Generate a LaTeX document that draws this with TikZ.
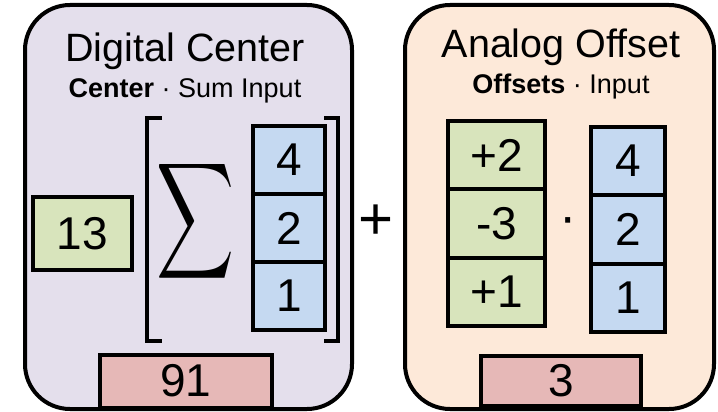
\documentclass[tikz,border=0pt]{standalone}
\usepackage{fontspec}
\setmainfont{Liberation Sans}
\usepackage{graphicx}
\definecolor{centerbg}{HTML}{E4DFEC}
\definecolor{offsetbg}{HTML}{FDE9D9}
\definecolor{cellgreen}{HTML}{D8E4BC}
\definecolor{cellblue}{HTML}{C5D9F1}
\definecolor{cellred}{HTML}{E6B8B7}
\newcommand{\fsz}[1]{\fontsize{#1}{#1}\selectfont}
\tikzset{
  panel/.style={draw, line width=4pt, rounded corners=45pt},
  cell/.style={draw, line width=4pt, inner sep=0pt, font=\fsz{46}},
  gcell/.style={cell, fill=cellgreen},
  bcell/.style={cell, fill=cellblue},
  rcell/.style={cell, fill=cellred},
  title/.style={anchor=base, inner sep=0pt, font=\fsz{39.5}},
  subtitle/.style={anchor=base, inner sep=0pt, font=\fsz{27}},
  brk/.style={line width=4pt, line cap=butt},
}
\begin{document}
\begin{tikzpicture}[x=1pt, y=-1pt]
\useasboundingbox (0,0) rectangle (718,412);

% panels
\draw[panel, fill=centerbg] (25,5) rectangle (352,409);
\draw[panel, fill=offsetbg] (405,5) rectangle (714,409);

% digital center
\node[title] (dtitle) at (185,62) {Digital Center};
\node[subtitle] (dsub) at (185,97) {\textbf{Center} · Sum Input};

\node[gcell, minimum width=99pt, minimum height=73pt] (c13) at (82.5,233.5) {13};

\draw[brk] (162,118) -| (147,341) -- (162,341);
\draw[brk] (324,118) -| (338,341) -- (324,341);
\node[inner sep=0pt] (sum) at (196,221) {\resizebox*{78pt}{130pt}{$\displaystyle\sum$}};

\node[bcell, minimum width=72pt, minimum height=68pt] (d4) at (289,160) {4};
\node[bcell, minimum width=72pt, minimum height=68pt] (d2) at (289,228) {2};
\node[bcell, minimum width=72pt, minimum height=68pt] (d1) at (289,296) {1};

\node[rcell, minimum width=172pt, minimum height=53pt] (r91) at (186,381) {91};

% plus between panels
\node[inner sep=0pt, font=\fsz{60}] (plus) at (376,222) {+};

% analog offset
\node[title] (atitle) at (561,58) {Analog Offset};
\node[subtitle] (asub) at (561,93) {\textbf{Offsets} · Input};

\node[gcell, minimum width=97pt, minimum height=68.5pt] (o1) at (496.5,155) {+2};
\node[gcell, minimum width=97pt, minimum height=68.5pt] (o2) at (496.5,223.5) {-3};
\node[gcell, minimum width=97pt, minimum height=68.5pt] (o3) at (496.5,292) {+1};

\node[inner sep=0pt, font=\fsz{52}] (dot) at (568,226) {·};

\node[bcell, minimum width=74pt, minimum height=68.5pt] (a4) at (628,161) {4};
\node[bcell, minimum width=74pt, minimum height=68.5pt] (a2) at (628,229.5) {2};
\node[bcell, minimum width=74pt, minimum height=68.5pt] (a1) at (628,298) {1};

\node[rcell, minimum width=160pt, minimum height=50pt] (r3) at (561,381) {3};
\end{tikzpicture}
\end{document}
